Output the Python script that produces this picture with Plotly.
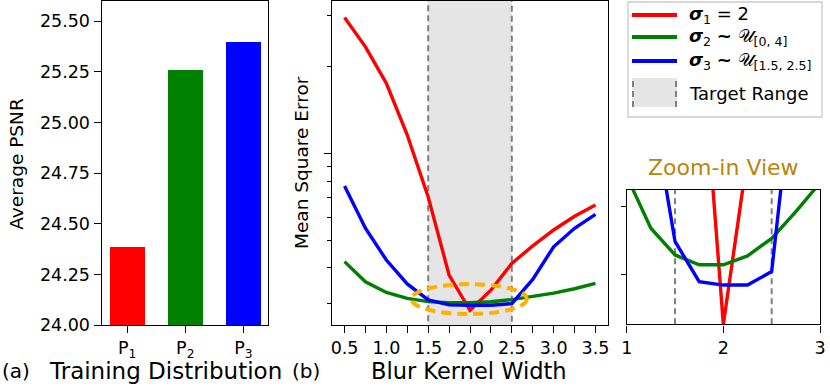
import plotly.graph_objects as go
import numpy as np

# (a) bar chart data
groups = ["P1", "P2", "P3"]
group_labels = ["P<sub>1</sub>", "P<sub>2</sub>", "P<sub>3</sub>"]
psnr = [24.386, 25.257, 25.396]
bar_colors = ["#FF0000", "#008000", "#0000FF"]

# (b) mse vs blur kernel width
kernel_width = [0.5, 0.75, 1.0, 1.25, 1.5, 1.75, 2.0, 2.25, 2.5, 2.75, 3.0, 3.25, 3.5]
mse_fixed = [0.02965, 0.02344, 0.01750, 0.01158, 0.00706, 0.00378, 0.002852,
             0.00335, 0.00415, 0.00477, 0.00542, 0.00605, 0.00662]
mse_wide = [0.004207, 0.003581, 0.00329, 0.003136, 0.003057, 0.003028, 0.003028,
            0.003054, 0.003106, 0.003185, 0.00327, 0.003388, 0.003539]
mse_narrow = [0.0077, 0.005495, 0.004261, 0.00352, 0.003097, 0.002978, 0.002968,
              0.002968, 0.003008, 0.00365, 0.004739, 0.005495, 0.006141]
series_names = ["<b><i>σ</i></b><sub>1</sub> = 2",
                "<b><i>σ</i></b><sub>2</sub> <b>~</b> 𝒰<sub>[0, 4]</sub>",
                "<b><i>σ</i></b><sub>3</sub> <b>~</b> 𝒰<sub>[1.5, 2.5]</sub>"]
series_colors = ["#FF0000", "#008000", "#0000FF"]
target_range = [1.5, 2.5]
ellipse_x = [1.3, 2.68]
ellipse_y = [0.002767, 0.003516]

W, H = 830, 388
FONT = "DejaVu Sans"
Y2_RANGE = [-2.596, -1.471]
GRAY_DASH = dict(color="#808080", width=2, dash="6px,4px")


def fx(p):
    return p / W


def fy(p):
    return 1 - p / H


def y2dom(v):
    return (np.log10(v) - Y2_RANGE[0]) / (Y2_RANGE[1] - Y2_RANGE[0])


fig = go.Figure()

fig.add_trace(go.Bar(x=groups, y=psnr, marker=dict(color=bar_colors, line=dict(width=0)),
                     width=0.61, xaxis="x", yaxis="y"))

# target range band (main panel)
fig.add_trace(go.Scatter(
    x=[target_range[0], target_range[0], target_range[1], target_range[1], target_range[0]],
    y=[1e-3, 1e-1, 1e-1, 1e-3, 1e-3],
    fill="toself", fillcolor="#E5E5E5", mode="lines", line=GRAY_DASH,
    hoverinfo="skip", xaxis="x2", yaxis="y2"))

for i, ys in enumerate([mse_fixed, mse_wide, mse_narrow]):
    fig.add_trace(go.Scatter(x=kernel_width, y=ys, mode="lines",
                             line=dict(color=series_colors[i], width=3.4),
                             xaxis="x2", yaxis="y2"))
    fig.add_trace(go.Scatter(x=kernel_width, y=ys, mode="lines",
                             line=dict(color=series_colors[i], width=3.4),
                             xaxis="x3", yaxis="y3"))

axis_common = dict(showline=True, mirror=True, linecolor="black", linewidth=1.4,
                   ticks="outside", ticklen=7, tickcolor="black", tickwidth=1.2,
                   showgrid=False, zeroline=False, automargin=False,
                   tickfont=dict(family=FONT, size=17.5, color="black"))

shapes = [
    # legend frame and "Target Range" swatch
    dict(type="rect", xref="paper", yref="paper", x0=fx(628), x1=fx(822), y0=fy(117), y1=fy(2),
         line=dict(color="#CCCCCC", width=1.3), fillcolor="white", layer="above"),
    dict(type="rect", xref="paper", yref="paper", x0=fx(632), x1=fx(677), y0=fy(107), y1=fy(78),
         line=dict(width=0), fillcolor="#E5E5E5", layer="above"),
    dict(type="line", xref="paper", yref="paper", x0=fx(633), x1=fx(633), y0=fy(107), y1=fy(78),
         line=GRAY_DASH, layer="above"),
    dict(type="line", xref="paper", yref="paper", x0=fx(676), x1=fx(676), y0=fy(107), y1=fy(78),
         line=GRAY_DASH, layer="above"),
    # zoom-in target range limits
    dict(type="line", xref="x3", yref="y3 domain", x0=target_range[0], x1=target_range[0], y0=0, y1=1,
         line=GRAY_DASH, layer="below"),
    dict(type="line", xref="x3", yref="y3 domain", x0=target_range[1], x1=target_range[1], y0=0, y1=1,
         line=GRAY_DASH, layer="below"),
    # highlight ellipse around the minima
    dict(type="circle", xref="x2", yref="y2 domain", x0=ellipse_x[0], x1=ellipse_x[1],
         y0=y2dom(ellipse_y[0]), y1=y2dom(ellipse_y[1]),
         line=dict(color="#FFB000", width=4, dash="10px,6px"), layer="above"),
]

annotations = [
    dict(text="(a)", x=fx(0), y=fy(371), size=20, anchor="left"),
    dict(text="Training Distribution", x=fx(165), y=fy(371), size=23),
    dict(text="(b)", x=fx(306), y=fy(371), size=20),
    dict(text="Blur Kernel Width", x=fx(469), y=fy(371), size=22.5),
    dict(text="Average PSNR", x=fx(15.7), y=fy(164), size=18.5, textangle=-90),
    dict(text="Mean Square Error", x=fx(301), y=fy(163), size=18.5, textangle=-90),
    dict(text="Zoom-in View", x=fx(723), y=fy(167), size=22, color="#B8860B"),
]
ann = []
for a in annotations:
    ann.append(dict(text=a["text"], x=a["x"], y=a["y"], xref="paper", yref="paper",
                    xanchor=a.get("anchor", "center"), yanchor="middle", showarrow=False,
                    textangle=a.get("textangle", 0),
                    font=dict(family=FONT, size=a["size"], color=a.get("color", "black"))))

# legend entries drawn by hand
legend_rows = [15, 37, 61]
for i, row in enumerate(legend_rows):
    shapes.append(dict(type="line", xref="paper", yref="paper", x0=fx(632), x1=fx(677),
                       y0=fy(row), y1=fy(row), line=dict(color=series_colors[i], width=4),
                       layer="above"))
    ann.append(dict(text=series_names[i], x=fx(687), y=fy(row), xref="paper", yref="paper",
                    xanchor="left", yanchor="middle", showarrow=False,
                    font=dict(family=FONT, size=18, color="black")))
ann.append(dict(text="Target Range", x=fx(687), y=fy(93), xref="paper", yref="paper",
                xanchor="left", yanchor="middle", showarrow=False,
                font=dict(family=FONT, size=18, color="black")))

fig.update_layout(
    width=W, height=H, margin=dict(l=0, r=0, t=0, b=0),
    plot_bgcolor="white", paper_bgcolor="white",
    font=dict(family=FONT, color="black"),
    showlegend=False,
    xaxis=dict(axis_common, domain=[fx(101.7), fx(268.3)], range=[-0.44, 2.43],
               tickvals=groups, ticktext=group_labels, anchor="y"),
    yaxis=dict(axis_common, domain=[fy(325), fy(1)], range=[24.0, 25.6],
               dtick=0.25, tick0=24, tickformat=".2f", anchor="x"),
    xaxis2=dict(axis_common, domain=[fx(332), fx(608)], range=[0.35, 3.65],
                tickvals=[0.5, 1.0, 1.5, 2.0, 2.5, 3.0, 3.5], tickformat=".1f",
                minor=dict(tickvals=[0.75, 1.25, 1.75, 2.25, 2.75, 3.25], ticklen=7,
                           ticks="outside", tickcolor="black", tickwidth=1.2),
                anchor="y2"),
    yaxis2=dict(axis_common, domain=[fy(325), fy(1)], type="log", range=Y2_RANGE,
                tickvals=[0.01], showticklabels=False,
                minor=dict(tickvals=[0.003, 0.004, 0.005, 0.006, 0.007, 0.008, 0.009, 0.02, 0.03],
                           ticklen=4, ticks="outside", tickcolor="black", tickwidth=1.2),
                anchor="x2"),
    xaxis3=dict(axis_common, domain=[fx(626.7), fx(820)], range=[1, 3],
                tickvals=[1, 2, 3], anchor="y3"),
    yaxis3=dict(axis_common, domain=[fy(324.3), fy(190)], range=[0.002852, 0.003249],
                tickvals=[0.0030, 0.0032], showticklabels=False, ticklen=5, anchor="x3"),
    shapes=shapes,
    annotations=ann,
    bargap=0,
)

fig.write_html("out.html", config={"displayModeBar": False},
               post_script="document.body.style.margin='0px';")
